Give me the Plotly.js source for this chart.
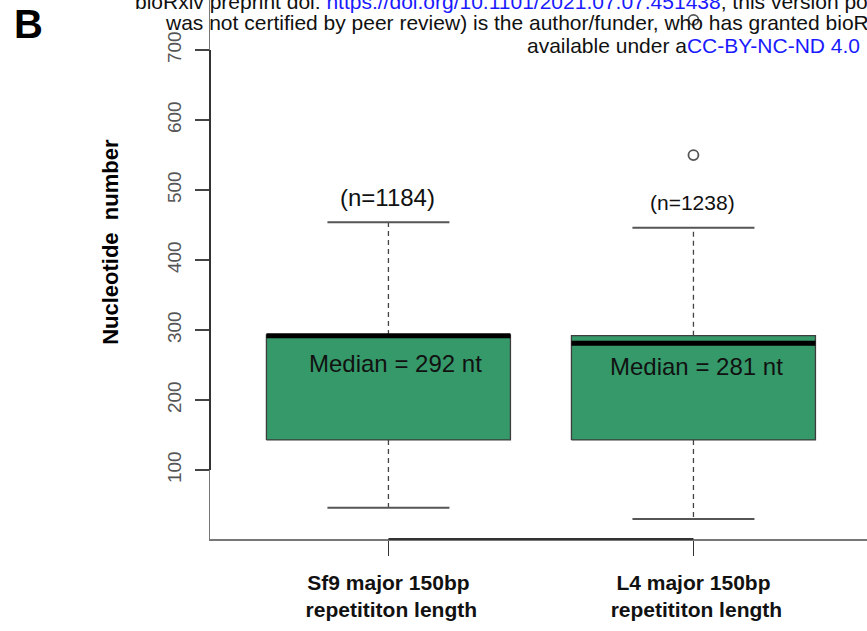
<!DOCTYPE html>
<html>
<head>
<meta charset="utf-8">
<script src="https://cdn.plot.ly/plotly-3.0.1.min.js"></script>
<style>
  html, body { margin: 0; padding: 0; background: #fff; }
  #chart { width: 867px; height: 631px; }
</style>
</head>
<body>
<div id="chart"></div>
<script>
// Repetition-length groups and their box-plot summaries (nt)
const groupLines = [
  ['Sf9 major 150bp', ' repetititon length'],
  ['L4 major 150bp', ' repetititon length']
];
const counts = [1184, 1238];
const lowerWhisker = [46, 30];
const q1 = [143, 143];
const median = [292, 281];
const q3 = [293, 292];
const upperWhisker = [454, 446];
const outliers = [[], [550, 743]];
const yTicks = [100, 200, 300, 400, 500, 600, 700];

const BOX_FILL = '#35996a';
const BOX_EDGE = '#3d3d3d';
const FONT = 'Liberation Sans, Arial, sans-serif';
const boxHalf = 0.4;
const capHalf = 0.2;

const xs = groupLines.map((_, i) => i + 1);
const traces = [];

xs.forEach((c, i) => {
  // dashed whiskers
  traces.push({
    type: 'scatter', mode: 'lines', hoverinfo: 'skip', showlegend: false,
    x: [c, c, null, c, c],
    y: [q3[i], upperWhisker[i], null, q1[i], lowerWhisker[i]],
    line: { color: '#444', width: 1.3, dash: '5px,4px' }
  });
  // whisker caps
  traces.push({
    type: 'scatter', mode: 'lines', hoverinfo: 'skip', showlegend: false,
    x: [c - capHalf, c + capHalf, null, c - capHalf, c + capHalf],
    y: [upperWhisker[i], upperWhisker[i], null, lowerWhisker[i], lowerWhisker[i]],
    line: { color: '#555', width: 2 }
  });
  // interquartile box
  traces.push({
    type: 'scatter', mode: 'lines', showlegend: false,
    x: [c - boxHalf, c + boxHalf, c + boxHalf, c - boxHalf, c - boxHalf],
    y: [q1[i], q1[i], q3[i], q3[i], q1[i]],
    fill: 'toself', fillcolor: BOX_FILL,
    line: { color: BOX_EDGE, width: 1.3 }
  });
  // median bar
  traces.push({
    type: 'scatter', mode: 'lines', showlegend: false,
    x: [c - boxHalf, c + boxHalf],
    y: [median[i], median[i]],
    line: { color: '#000', width: 5 }
  });
  // outlying points
  if (outliers[i].length) {
    traces.push({
      type: 'scatter', mode: 'markers', showlegend: false,
      x: outliers[i].map(() => c),
      y: outliers[i],
      marker: { symbol: 'circle-open', size: 10, color: '#555', line: { width: 1.8 } },
      cliponaxis: false
    });
  }
});

const annotations = [];
// sample sizes above each box
const nSize = [24, 21];
xs.forEach((c, i) => {
  annotations.push({
    x: c, y: upperWhisker[i], xref: 'x', yref: 'y',
    text: '(n=' + counts[i] + ')', showarrow: false,
    yanchor: 'bottom', yshift: [9, 12][i], xshift: -1,
    font: { family: FONT, size: nSize[i], color: '#111' }
  });
  annotations.push({
    x: c, y: median[i], xref: 'x', yref: 'y',
    text: 'Median = ' + median[i] + ' nt', showarrow: false,
    yanchor: 'top', yshift: [-12, -8][i], xshift: [7, 3][i],
    font: { family: FONT, size: 24, color: '#111' }
  });
});

// y-axis title
annotations.push({
  xref: 'paper', yref: 'paper', x: -0.1516, y: 0.552,
  xanchor: 'center', yanchor: 'middle', textangle: -90,
  text: 'Nucleotide  number', showarrow: false,
  font: { family: FONT, size: 22, color: '#000', weight: 'bold' }
});

// panel letter
annotations.push({
  xref: 'paper', yref: 'paper', x: -0.277, y: 0.955,
  xanchor: 'center', yanchor: 'middle',
  text: 'B', showarrow: false,
  font: { family: FONT, size: 40, color: '#000', weight: 'bold' }
});

// preprint header lines
const headerFont = { family: FONT, size: 21, color: '#111' };
const LINK = '#1a1aff';
const header = [
  { px: 133, py: 1, text: 'bioRxiv preprint doi: <span style="color:' + LINK + '">https://doi.org/10.1101/2021.07.07.451438</span>; this version posted July 8, 2021. The copyright holder' },
  { px: 163, py: 23, text: 'was not certified by peer review) is the author/funder, who has granted bioRxiv a license to display' },
  { px: 525, py: 45, text: 'available under a<span style="color:' + LINK + '">CC-BY-NC-ND 4.0 International license</span>.' }
];
header.forEach(h => {
  annotations.push({
    xref: 'paper', yref: 'paper',
    x: (h.px - 210) / 657, y: 1 - h.py / 539,
    xanchor: 'left', yanchor: 'middle',
    text: h.text, showarrow: false, font: headerFont
  });
});

const shapes = [
  // darker axis segment spanning the tick range on y
  { type: 'line', xref: 'paper', yref: 'y', x0: 0, x1: 0,
    y0: yTicks[0], y1: yTicks[yTicks.length - 1],
    line: { color: '#333', width: 2 } },
  // darker axis segment between the group ticks on x
  { type: 'line', xref: 'x', yref: 'paper', x0: xs[0], x1: xs[xs.length - 1],
    y0: 0, y1: 0, line: { color: '#333', width: 2 } }
];

const layout = {
  width: 867, height: 631,
  margin: { l: 210, r: 0, t: 0, b: 92 },
  paper_bgcolor: '#fff', plot_bgcolor: '#fff',
  showlegend: false,
  font: { family: FONT },
  xaxis: {
    range: [0.415, 2.569],
    tickvals: xs,
    ticktext: groupLines.map(l => l.join('<br>')),
    ticks: 'outside', ticklen: 15, tickwidth: 1.3, tickcolor: '#333',
    showline: true, linecolor: '#777', linewidth: 1.5,
    showgrid: false, zeroline: false,
    ticklabelstandoff: 9,
    tickfont: { family: FONT, size: 21, color: '#111', weight: 'bold' }
  },
  yaxis: {
    range: [1.5, 771.5],
    tickvals: yTicks,
    tickangle: -90,
    ticks: 'outside', ticklen: 14, tickwidth: 1.3, tickcolor: '#444',
    showline: true, linecolor: '#777', linewidth: 1.5,
    showgrid: false, zeroline: false,
    ticklabelstandoff: 6,
    tickfont: { family: FONT, size: 19, color: '#555' }
  },
  annotations: annotations,
  shapes: shapes
};

Plotly.newPlot('chart', traces, layout, { staticPlot: true, displayModeBar: false });
</script>
</body>
</html>
